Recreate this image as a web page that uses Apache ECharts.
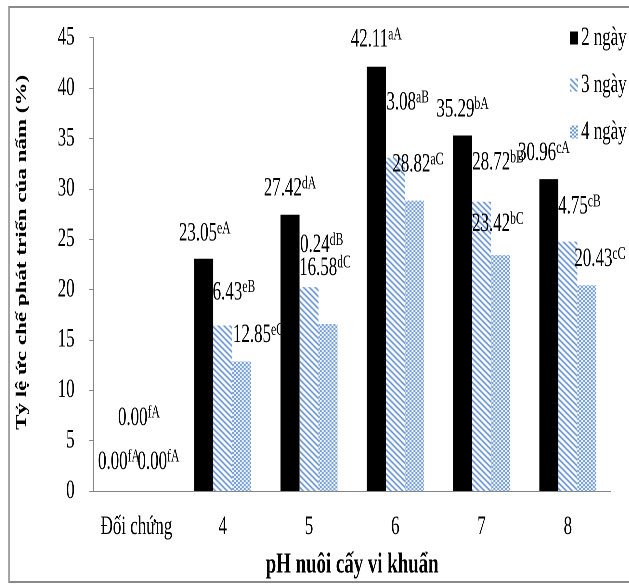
<!DOCTYPE html>
<html>
<head>
<meta charset="utf-8">
<script src="https://cdn.jsdelivr.net/npm/echarts@6/dist/echarts.min.js"></script>
<style>
html, body { margin: 0; padding: 0; background: #fff; overflow: hidden; }
#wrap { width: 629px; height: 587px; overflow: hidden; position: relative; }
/* the source figure is squeezed sideways, so the chart is drawn wide and squeezed too */
#main { width: 968px; height: 587px; transform: scaleX(0.65); transform-origin: 0 0; }
</style>
</head>
<body>
<div id="wrap"><div id="main"></div></div>
<script>
const SX = 0.65;

const categories = ["Đối chứng", "4", "5", "6", "7", "8"];
const seriesNames = ["2 ngày", "3 ngày", "4 ngày"];
const day2 = [0, 23.05, 27.42, 42.11, 35.29, 30.96];
const day3 = [0, 16.43, 20.24, 33.08, 28.72, 24.75];
const day4 = [0, 12.85, 16.58, 28.82, 23.42, 20.43];
const sig2 = ["fA", "eA", "dA", "aA", "bA", "cA"];
const sig3 = ["fA", "eB", "dB", "aB", "bB", "cB"];
const sig4 = ["fA", "eC", "dC", "aC", "bC", "cC"];
const yMin = 0, yMax = 45, yStep = 5;

// label nudges (screen px) from the top centre of each bar
const nudge2 = [[21.5, -73], [1, -25], [0, -26], [0, -27], [0, -26], [-5, -26]];
const nudge3 = [[-17.5, -29], [7, -33], [8.4, -42], [8.2, -55], [16.5, -39], [7.4, -35]];
const nudge4 = [[3, -29], [16.7, -26.5], [-3, -56], [3.6, -36], [-2.7, -31], [13, -26]];

const FONT = "'Liberation Serif', 'DejaVu Serif', serif";

function hatchPattern() {
	const w = 9, h = 6;
	const c = document.createElement("canvas");
	c.width = w; c.height = h;
	const g = c.getContext("2d");
	g.fillStyle = "#fff";
	g.fillRect(0, 0, w, h);
	g.strokeStyle = "#4f82cb";
	g.lineWidth = 1.7;
	for (let k = -2; k <= 2; k++) {
		g.beginPath();
		g.moveTo(k * w - w, -h);
		g.lineTo(k * w + 2 * w, 2 * h);
		g.stroke();
	}
	return { image: c, repeat: "repeat" };
}

function dotPattern() {
	const c = document.createElement("canvas");
	c.width = 6; c.height = 4;
	const g = c.getContext("2d");
	g.fillStyle = "#6593d4";
	g.fillRect(0, 0, 6, 4);
	g.fillStyle = "#fff";
	g.fillRect(0, 0, 3, 2);
	g.fillRect(3, 2, 3, 2);
	return { image: c, repeat: "repeat" };
}

const barSeries = (name, vals, sigs, nudge, color, z) => ({
	name: name,
	type: "bar",
	z: z,
	barWidth: 19 / SX,
	barGap: "0%",
	itemStyle: { color: color },
	emphasis: { disabled: true },
	data: vals.map((v, i) => ({
		value: v,
		label: { offset: [nudge[i][0] / SX, nudge[i][1]] },
	})),
	label: {
		show: true,
		position: "top",
		distance: 0,
		align: "center",
		verticalAlign: "middle",
		formatter: (p) => "{v|" + vals[p.dataIndex].toFixed(2) + "}{s|" + sigs[p.dataIndex] + "}",
		rich: {
			v: { fontFamily: FONT, fontSize: 26, color: "#000", lineHeight: 28 },
			s: { fontFamily: FONT, fontSize: 18, color: "#000", lineHeight: 18, verticalAlign: "top" },
		},
	},
});

const chart = echarts.init(document.getElementById("main"), null, { devicePixelRatio: 2 });

chart.setOption({
	animation: false,
	backgroundColor: "#fff",
	graphic: [
		{
			type: "rect",
			silent: true,
			shape: { x: 9 / SX, y: 7, width: 1000, height: 575 },
			style: { fill: "none", stroke: "#8a8a8a", lineWidth: 2 },
		},
	],
	legend: {
		data: seriesNames,
		orient: "vertical",
		left: 872,
		top: 19,
		itemWidth: 12,
		itemHeight: 13,
		itemGap: 19,
		icon: "rect",
		textStyle: { fontFamily: FONT, fontSize: 26, lineHeight: 28, color: "#000" },
	},
	grid: {
		left: 93.3 / SX,
		right: 968 - 611 / SX,
		top: 37.7,
		bottom: 89,
	},
	xAxis: {
		type: "category",
		data: categories,
		name: "pH nuôi cấy vi khuẩn",
		nameLocation: "middle",
		nameGap: 57,
		nameTextStyle: { fontFamily: FONT, fontSize: 29, fontWeight: "bold", color: "#000", lineHeight: 34 },
		axisLine: { lineStyle: { color: "#868686", width: 1 } },
		axisTick: { length: 7, lineStyle: { color: "#868686", width: 1.5 } },
		axisLabel: { fontFamily: FONT, fontSize: 26, lineHeight: 30, color: "#000", margin: 21, interval: 0 },
	},
	yAxis: {
		type: "value",
		min: yMin,
		max: yMax,
		interval: yStep,
		name: "Tỷ lệ ức chế phát triển của nấm (%)",
		nameLocation: "middle",
		nameGap: 98,
		nameTextStyle: { fontFamily: FONT, fontSize: 23, fontWeight: "bold", color: "#000", padding: [0, 0, 0, 24] },
		splitLine: { show: false },
		axisLine: { show: true, lineStyle: { color: "#868686", width: 1.5 } },
		axisTick: { show: true, length: 6, lineStyle: { color: "#868686", width: 1 } },
		axisLabel: { fontFamily: FONT, fontSize: 26, color: "#000", margin: 28.8 },
	},
	series: [
		barSeries(seriesNames[0], day2, sig2, nudge2, "#000", 3),
		barSeries(seriesNames[1], day3, sig3, nudge3, hatchPattern(), 2),
		barSeries(seriesNames[2], day4, sig4, nudge4, dotPattern(), 4),
	],
});
</script>
</body>
</html>
